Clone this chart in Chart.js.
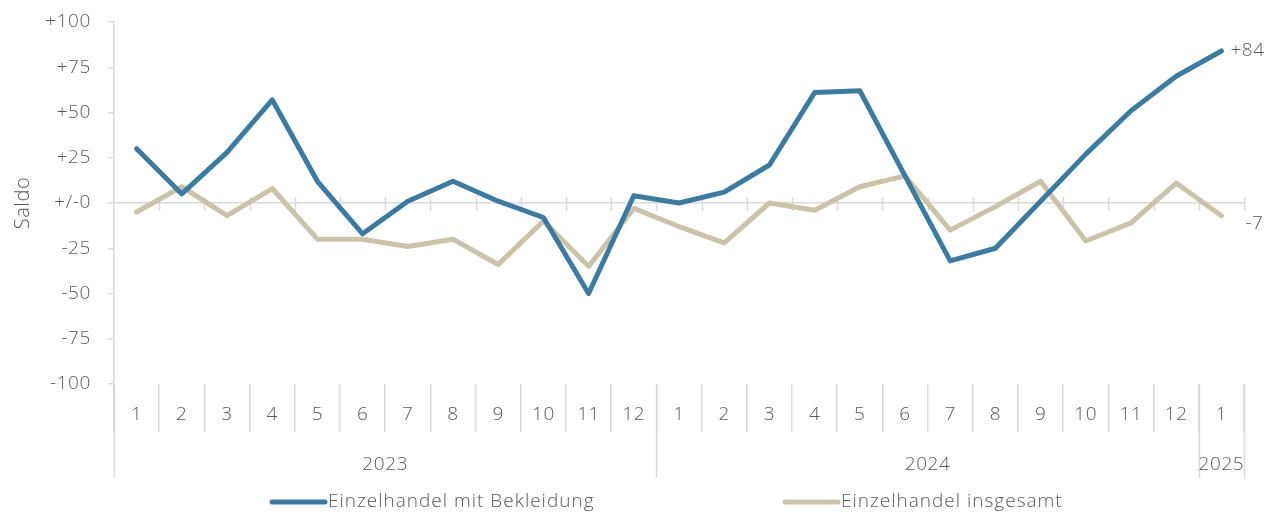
<!DOCTYPE html>
<html>
<head>
<meta charset="utf-8">
<script src="https://cdn.jsdelivr.net/npm/chart.js@4.4.1/dist/chart.umd.min.js"></script>
<style>
  html, body { margin: 0; padding: 0; background: #fff; }
  #wrap { width: 1281px; height: 515px; position: relative; }
</style>
</head>
<body>
<div id="wrap"><canvas id="chart" width="1281" height="515"></canvas></div>
<script>
// ---- data ----
const MONTHS = ['1','2','3','4','5','6','7','8','9','10','11','12',
                '1','2','3','4','5','6','7','8','9','10','11','12','1'];
const YEARS = ['2023', '2024', '2025'];
const YEAR_COUNTS = [12, 12, 1];
const SERIES_NAMES = ['Einzelhandel mit Bekleidung', 'Einzelhandel insgesamt'];
const BEKLEIDUNG = [30, 5, 28, 57, 12, -17, 1, 12, 1, -8, -50, 4,
                    0, 6, 21, 61, 62, 15, -32, -25, 1, 27, 51, 70, 84];
const INSGESAMT = [-5, 9, -7, 8, -20, -20, -24, -20, -34, -10, -35, -3,
                   -13, -22, 0, -4, 9, 15, -15, -2, 12, -21, -11, 11, -7];
const Y_TICKS = [-100, -75, -50, -25, 0, 25, 50, 75, 100];

// ---- style ----
const BLUE = '#3d7aa0';
const BEIGE = '#cbc2aa';
const GRID = '#d9d9d9';
const TEXT = '#595959';
const FONT = '"Open Sans", Lato, sans-serif';
const FSIZE = 19;
const FWEIGHT = '300';

function fmt(v) {
    if (v === 0) return '+/-0';
    return v > 0 ? '+' + v : String(v);
}

// custom drawing: zero-line ticks, year row, end labels, legend
const extras = {
    id: 'extras',
    beforeDraw(chart) {
        chart.ctx.letterSpacing = '0.6px';
    },
    beforeDatasetsDraw(chart) {
        const ctx = chart.ctx;
        const area = chart.chartArea;
        const step = (area.right - area.left) / MONTHS.length;
        const y0 = chart.scales.y.getPixelForValue(0);
        ctx.save();
        ctx.strokeStyle = GRID;
        ctx.lineWidth = 1.5;
        // small ticks across the zero line
        for (let i = 1; i <= MONTHS.length; i++) {
            const px = Math.round(area.left + i * step) + 0.5;
            ctx.beginPath();
            ctx.moveTo(px, y0 - 6);
            ctx.lineTo(px, y0 + 8);
            ctx.stroke();
        }
        ctx.restore();
    },
    afterDraw(chart) {
        const ctx = chart.ctx;
        const x = chart.scales.x;
        const y = chart.scales.y;
        const area = chart.chartArea;
        const step = (area.right - area.left) / MONTHS.length;

        ctx.save();
        ctx.strokeStyle = GRID;
        ctx.lineWidth = 1.5;

        // year separators + labels
        let idx = 0;
        const sepBottom = 478;
        const bounds = [0];
        YEAR_COUNTS.forEach(c => { idx += c; bounds.push(idx); });
        bounds.forEach(b => {
            const px = Math.round(area.left + b * step) + 0.5;
            ctx.beginPath();
            ctx.moveTo(px, area.bottom);
            ctx.lineTo(px, sepBottom);
            ctx.stroke();
        });
        ctx.fillStyle = TEXT;
        ctx.font = FWEIGHT + ' ' + FSIZE + 'px ' + FONT;
        ctx.textAlign = 'center';
        ctx.textBaseline = 'middle';
        YEARS.forEach((yr, i) => {
            const cx = area.left + (bounds[i] + bounds[i + 1]) / 2 * step;
            ctx.fillText(yr, cx, 465);
        });

        // end labels
        const last = MONTHS.length - 1;
        ctx.textAlign = 'left';
        const lx = x.getPixelForValue(last);
        ctx.fillText(fmt(BEKLEIDUNG[last]), lx + 9, y.getPixelForValue(BEKLEIDUNG[last]));
        ctx.fillText(fmt(INSGESAMT[last]), lx + 24, y.getPixelForValue(INSGESAMT[last]) + 8);

        // legend
        const legend = [
            { name: SERIES_NAMES[0], color: BLUE, x: 270 },
            { name: SERIES_NAMES[1], color: BEIGE, x: 783 }
        ];
        ctx.lineCap = 'round';
        ctx.letterSpacing = '1px';
        legend.forEach(item => {
            ctx.strokeStyle = item.color;
            ctx.lineWidth = 5;
            ctx.beginPath();
            ctx.moveTo(item.x + 2, 502);
            ctx.lineTo(item.x + 55, 502);
            ctx.stroke();
            ctx.fillText(item.name, item.x + 58, 502);
        });
        ctx.restore();
    }
};

const tickFont = { family: FONT, size: FSIZE, weight: FWEIGHT };

new Chart(document.getElementById('chart'), {
    type: 'line',
    data: {
        labels: MONTHS,
        datasets: [
            { label: SERIES_NAMES[0], data: BEKLEIDUNG, borderColor: BLUE, backgroundColor: BLUE,
              borderWidth: 5, pointRadius: 0, tension: 0, borderCapStyle: 'round', borderJoinStyle: 'round' },
            { label: SERIES_NAMES[1], data: INSGESAMT, borderColor: BEIGE, backgroundColor: BEIGE,
              borderWidth: 5, pointRadius: 0, tension: 0, borderCapStyle: 'round', borderJoinStyle: 'round' }
        ]
    },
    options: {
        responsive: false,
        animation: false,
        layout: { autoPadding: false, padding: { top: 22, right: 37, left: 0, bottom: 0 } },
        plugins: { legend: { display: false }, tooltip: { enabled: false } },
        scales: {
            x: {
                offset: true,
                border: { display: false },
                grid: { offset: true, drawOnChartArea: false, drawTicks: true, tickLength: 48, color: GRID, lineWidth: 1.5 },
                ticks: { color: TEXT, font: tickFont, padding: -29, maxRotation: 0, autoSkip: false },
                afterFit(s) { s.height = 131; s.paddingLeft = 0; s.paddingRight = 0; }
            },
            y: {
                min: -100, max: 100,
                afterBuildTicks(s) { s.ticks = Y_TICKS.map(v => ({ value: v })); },
                border: { display: true, color: GRID, width: 1.5 },
                grid: {
                    drawOnChartArea: true, drawTicks: true, tickLength: 6,
                    color: ctx => (ctx.tick && ctx.tick.value === 0) ? GRID : 'rgba(0,0,0,0)',
                    tickColor: GRID, lineWidth: 1.5
                },
                ticks: { color: TEXT, font: tickFont, padding: 17, callback: v => fmt(v) },
                title: { display: true, text: 'Saldo', color: TEXT, font: { family: FONT, size: 20, weight: FWEIGHT }, padding: { top: 11, bottom: 0 } },
                afterFit(s) { s.width = 114; s.paddingTop = 0; s.paddingBottom = 0; }
            }
        }
    },
    plugins: [extras]
});
</script>
</body>
</html>
